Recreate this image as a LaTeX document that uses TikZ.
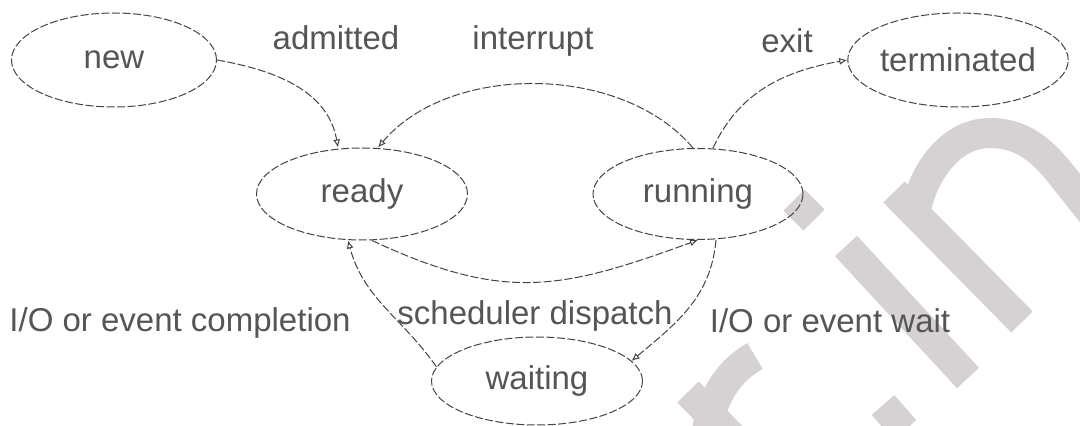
\documentclass[tikz,border=0pt]{standalone}
\usepackage{fontspec}
\setmainfont{Liberation Sans}
\usetikzlibrary{shapes.geometric,arrows.meta}
\definecolor{wm}{HTML}{D6D2D4}
\definecolor{ink}{HTML}{555555}
\definecolor{lineink}{HTML}{444444}
\tikzset{
  state/.style={ellipse, draw=lineink, line width=1pt, dash pattern=on 8pt off 2.5pt,
    inner sep=0pt, text=ink, font=\fontsize{33}{40}\selectfont},
  lbl/.style={anchor=base, text=ink, inner sep=0pt, font=\fontsize{33}{40}\selectfont},
  edge/.style={draw=lineink, line width=1pt, dash pattern=on 8pt off 2.5pt,
    -{Latex[open,length=8pt,width=7pt]}},
  wmark/.style={draw=wm, line width=30pt, line cap=butt}
}
\begin{document}
\begin{tikzpicture}[x=1pt,y=1pt]
\useasboundingbox (0,0) rectangle (1080,426);
\fill[white] (0,0) rectangle (1080,426);
\begin{scope}
\clip (0,0) rectangle (1080,426);
% watermark
\draw[wmark] (794,226) -- (814,206);
\draw[wmark] (846,180) -- (968,48);
\draw[wmark] (894,234) -- (1022,104);
\draw[wmark] (915,213) .. controls (925,261) and (955,293) .. (990,293)
  .. controls (1020,293) and (1040,278) .. (1060,253) -- (1110,190);
\draw[wmark] (688,34) -- (735,-14);
\draw[wmark] (755,70) .. controls (730,56) and (712,31) .. (707,-6);
\draw[wmark] (883,21) -- (905,-4);
\end{scope}
% states
\node[state, minimum width=205pt, minimum height=94pt] (new) at (114,366) {new};
\node[state, minimum width=211pt, minimum height=92pt] (ready) at (362,232) {ready};
\node[state, minimum width=210pt, minimum height=91pt] (running) at (698,232) {running};
\node[state, minimum width=207pt, minimum height=94pt] (term) at (958,366) {terminated};
\node[state, minimum width=211pt, minimum height=88pt] (waiting) at (537,45) {waiting};
% labels
\node[lbl] (ladm) at (336,376) {admitted};
\node[lbl] (lint) at (533,376) {interrupt};
\node[lbl] (lexit) at (787,373) {exit};
\node[lbl] (lcomp) at (180,94) {I/O or event completion};
\node[lbl] (ldisp) at (535,101) {scheduler dispatch};
\node[lbl] (lwait) at (830,93) {I/O or event wait};
% transitions
\draw[edge] (new.east) to[out=-10, in=100] ([xshift=-24pt]ready.north);
\draw[edge] ([xshift=-5pt]running.north) to[out=130, in=50, looseness=0.9] ([xshift=16pt]ready.north);
\draw[edge] ([xshift=15pt]running.north) to[out=65, in=190] (term.west);
\draw[edge] ([xshift=10pt]ready.south) to[out=-25, in=200, looseness=1.15] (running.south);
\draw[edge] ([xshift=18pt]running.south) to[out=-95, in=40] (waiting.12);
\draw[edge] (waiting.172) to[out=125, in=-75] ([xshift=-14pt]ready.south);
\end{tikzpicture}
\end{document}
